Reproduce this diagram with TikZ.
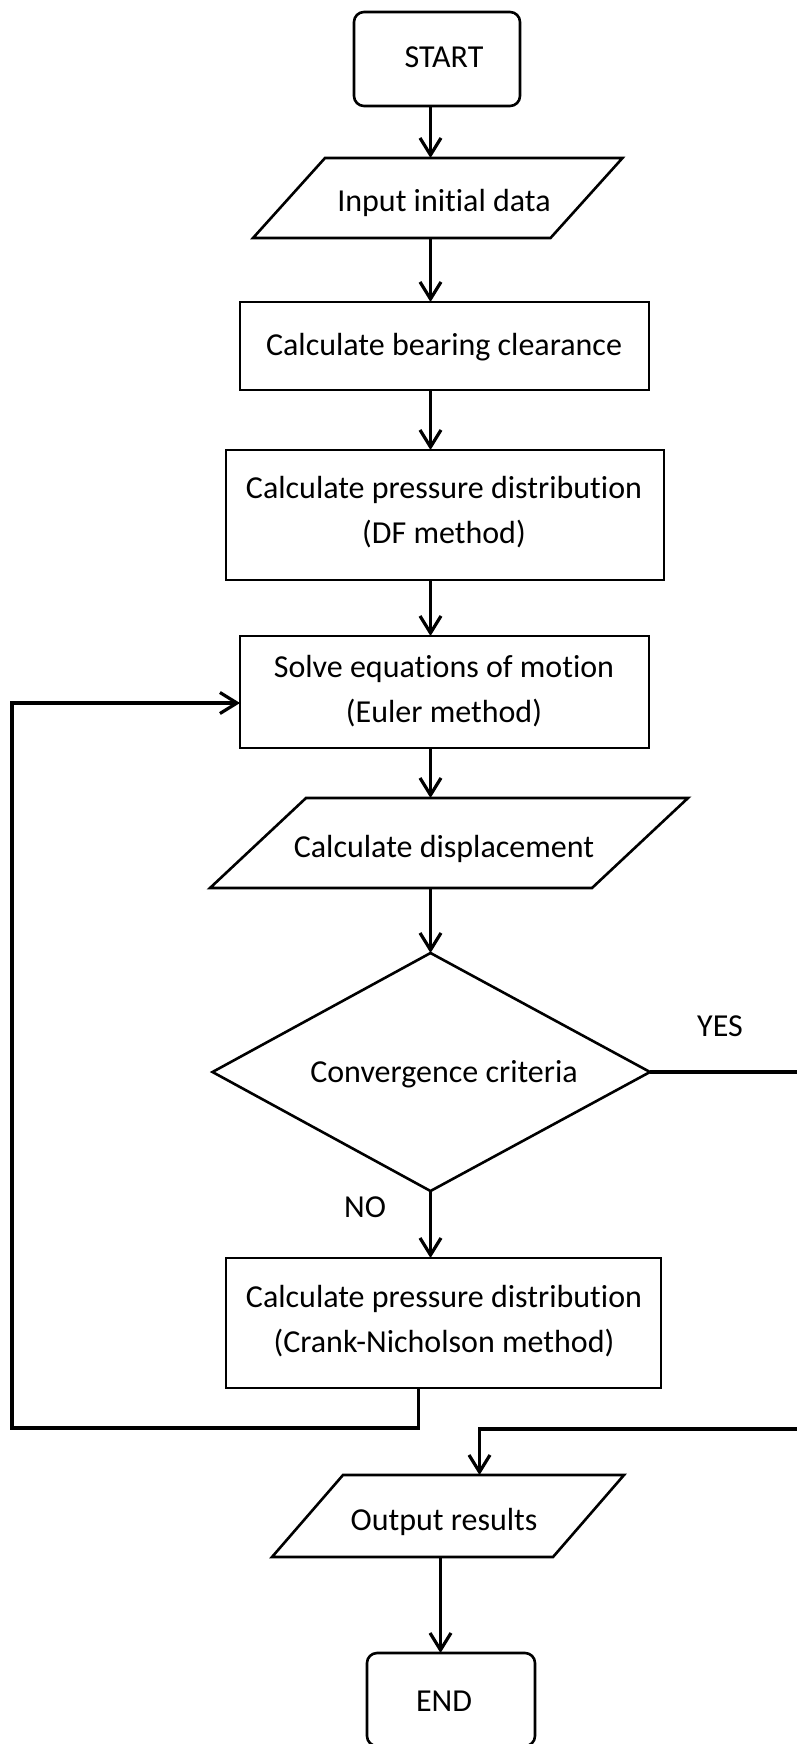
\documentclass[tikz,border=0pt]{standalone}
\usepackage{fontspec}
\setmainfont{Carlito}[Ligatures=NoCommon]
\usetikzlibrary{arrows.meta}
\begin{document}
\begin{tikzpicture}[x=1pt,y=-1pt,
  box/.style={draw, line width=2.6pt, inner sep=0pt, outer sep=0pt},
  rbox/.style={box, rectangle},
  term/.style={box, rectangle, rounded corners=10pt},
  io/.style={box, rectangle},
  txt/.style={font=\fontsize{32}{45}\selectfont, inner sep=0pt, anchor=base, align=center},
  arr/.style={line width=3.2pt, -{Straight Barb[length=17pt,width=21pt]}}]
\useasboundingbox (0,0) rectangle (797,1744);
% shapes
\node[term, minimum width=166pt, minimum height=94pt] (start) at (437,59) {};
\node[txt] (tstart) at (444,68) {START};
\node[io, xslant=0.9, minimum width=297.5pt, minimum height=80pt] (input) at (437.75,198) {};
\node[txt] (tinput) at (444,212) {Input initial data};
\node[rbox, minimum width=409pt, minimum height=88pt] (bear) at (444.5,346) {};
\node[txt] (tbear) at (444,355) {Calculate bearing clearance};
\node[rbox, minimum width=438pt, minimum height=130pt] (df) at (445,515) {};
\node[txt] (tdf) at (444,543) {Calculate pressure distribution\\(DF method)};
\node[rbox, minimum width=409pt, minimum height=112pt] (solve) at (444.5,692) {};
\node[txt] (tsolve) at (444,722) {Solve equations of motion\\(Euler method)};
\node[io, xslant=1.067, minimum width=382pt, minimum height=90pt] (disp) at (449,843) {};
\node[txt] (tdisp) at (444,857) {Calculate displacement};
\draw[line width=2.6pt] (430.5,953) coordinate (convN) -- (650,1072) coordinate (convE)
  -- (430.5,1191) coordinate (convS) -- (212.5,1072) coordinate (convW) -- cycle;
\node[txt] (tconv) at (444,1082) {Convergence criteria};
\node[txt] (yes) at (720,1036) {YES};
\node[txt] (no) at (365,1217) {NO};
\node[rbox, minimum width=435pt, minimum height=130pt] (crank) at (443.5,1323) {};
\node[txt] (tcrank) at (444,1352) {Calculate pressure distribution\\(Crank-Nicholson method)};
\node[io, xslant=0.866, minimum width=281pt, minimum height=82pt] (out) at (448,1516) {};
\node[txt] (tout) at (444,1530) {Output results};
\node[term, minimum width=168pt, minimum height=93pt] (end) at (451,1699.5) {};
\node[txt] (tend) at (444,1711) {END};
% helper coordinates
\coordinate (mx) at (430.5,0);
\coordinate (fbA) at (418.5,1428);
\coordinate (fbB) at (12,703);
\coordinate (yR) at (800,1429);
\coordinate (yD) at (479.5,1429);
\coordinate (ox) at (440.5,0);
% connectors
\draw[arr] (start.south -| mx) -- (input.north -| mx);
\draw[arr] (input.south -| mx) -- (bear.north -| mx);
\draw[arr] (bear.south -| mx) -- (df.north -| mx);
\draw[arr] (df.south -| mx) -- (solve.north -| mx);
\draw[arr] (solve.south -| mx) -- (disp.north -| mx);
\draw[arr] (disp.south -| mx) -- (convN);
\draw[arr] (convS) -- (crank.north -| mx);
\draw[arr] (crank.south -| fbA) -- (fbA) -| (fbB) -- (solve.west |- fbB);
\draw[arr] (convE) -- (convE -| yR) -- (yR) -- (yD) -- (out.north -| yD);
\draw[arr] (out.south -| ox) -- (end.north -| ox);
\end{tikzpicture}
\end{document}
